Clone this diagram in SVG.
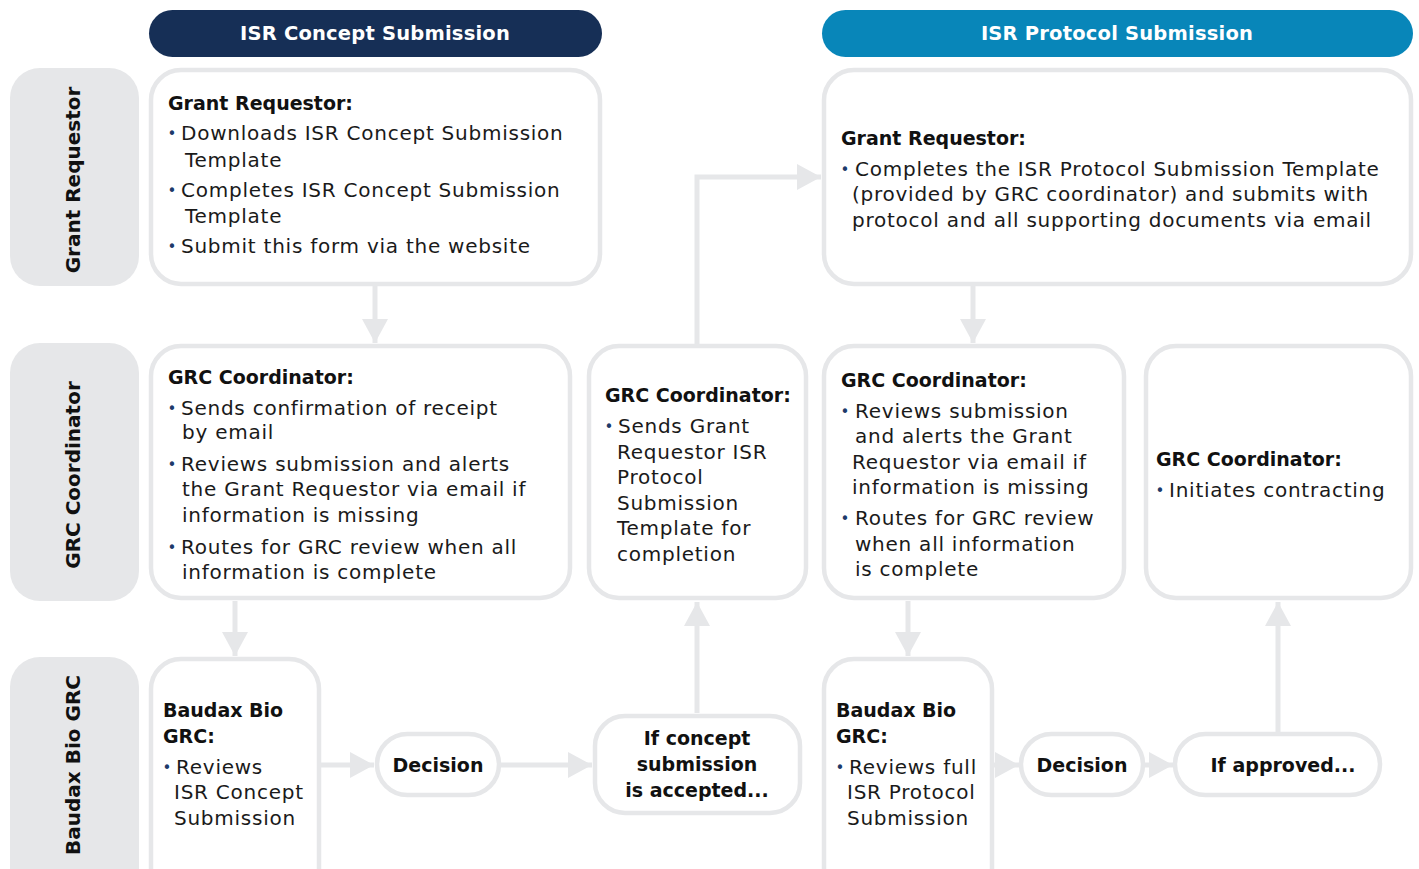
<svg xmlns="http://www.w3.org/2000/svg" width="1419" height="869" viewBox="0 0 1419 869">
<style>
.lane{fill:#e6e7e9}
.box{fill:#ffffff;stroke:#e6e7e9;stroke-width:4.5}
.hdr{font-family:"DejaVu Sans",sans-serif;font-weight:bold;font-size:19.5px;fill:#ffffff;text-anchor:middle;letter-spacing:0.2px}
.ln{font-family:"DejaVu Sans",sans-serif;font-weight:bold;font-size:20px;fill:#111111;text-anchor:middle}
.t{font-family:"DejaVu Sans",sans-serif;font-weight:bold;font-size:19px;fill:#111111}
.tc{font-family:"DejaVu Sans",sans-serif;font-weight:bold;font-size:19px;fill:#111111;text-anchor:middle}
.x{font-family:"DejaVu Sans",sans-serif;font-size:20px;fill:#1a1a1a;letter-spacing:0.75px}
.b{font-family:"DejaVu Sans",sans-serif;font-size:15px;fill:#1d3a6a;text-anchor:middle}
.c{fill:none;stroke:#e6e7e9;stroke-width:5}
</style>
<defs>
<marker id="ah" markerUnits="userSpaceOnUse" markerWidth="30" markerHeight="30" refX="24" refY="13" orient="auto" viewBox="0 0 30 30">
<path d="M0,0 L24,13 L0,26 Z" fill="#e6e7e9"/>
</marker>
</defs>
<rect width="1419" height="869" fill="#ffffff"/>

<g id="header-concept">
<rect x="149" y="10" width="453" height="47" rx="23.5" fill="#162f56"/>
<text class="hdr" x="375" y="40">ISR Concept Submission</text>
</g>
<g id="header-protocol">
<rect x="822" y="10" width="591" height="47" rx="23.5" fill="#0886b9"/>
<text class="hdr" x="1117" y="40">ISR Protocol Submission</text>
</g>

<g id="lane-grant-requestor">
<rect class="lane" x="10" y="68" width="129" height="218" rx="30"/>
<text class="ln" transform="translate(80,180) rotate(-90)">Grant Requestor</text>
</g>
<g id="lane-grc-coordinator">
<rect class="lane" x="10" y="343" width="129" height="258" rx="30"/>
<text class="ln" transform="translate(80,475) rotate(-90)">GRC Coordinator</text>
</g>
<g id="lane-baudax">
<rect class="lane" x="10" y="657" width="129" height="240" rx="30"/>
<text class="ln" transform="translate(80,765) rotate(-90)">Baudax Bio GRC</text>
</g>

<g id="connectors">
<line class="c" x1="375" y1="286" x2="375" y2="343" marker-end="url(#ah)"/>
<line class="c" x1="235" y1="601" x2="235" y2="656" marker-end="url(#ah)"/>
<line class="c" x1="321" y1="765" x2="374" y2="765" marker-end="url(#ah)"/>
<line class="c" x1="501" y1="765" x2="592" y2="765" marker-end="url(#ah)"/>
<line class="c" x1="697" y1="713" x2="697" y2="602" marker-end="url(#ah)"/>
<polyline class="c" points="697,344 697,177 821,177" marker-end="url(#ah)"/>
<line class="c" x1="973" y1="286" x2="973" y2="343" marker-end="url(#ah)"/>
<line class="c" x1="908" y1="601" x2="908" y2="656" marker-end="url(#ah)"/>
<line class="c" x1="994" y1="765" x2="1019" y2="765" marker-end="url(#ah)"/>
<line class="c" x1="1145" y1="765" x2="1173" y2="765" marker-end="url(#ah)"/>
<line class="c" x1="1278" y1="732" x2="1278" y2="602" marker-end="url(#ah)"/>
</g>

<g id="concept-grant-requestor">
<rect class="box" x="151" y="70" width="449" height="214" rx="30"/>
<text class="t" x="168" y="110">Grant Requestor:</text>
<text class="b" x="172" y="139">•</text>
<text class="x" x="181" y="140">Downloads ISR Concept Submission</text>
<text class="x" x="185" y="167">Template</text>
<text class="b" x="172" y="196">•</text>
<text class="x" x="181" y="197">Completes ISR Concept Submission</text>
<text class="x" x="185" y="223">Template</text>
<text class="b" x="172" y="252">•</text>
<text class="x" x="181" y="253">Submit this form via the website</text>
</g>

<g id="concept-grc-coordinator">
<rect class="box" x="151" y="346" width="419" height="252" rx="30"/>
<text class="t" x="168" y="384">GRC Coordinator:</text>
<text class="b" x="172" y="414">•</text>
<text class="x" x="181" y="415">Sends confirmation of receipt</text>
<text class="x" x="182" y="439">by email</text>
<text class="b" x="172" y="470">•</text>
<text class="x" x="181" y="471">Reviews submission and alerts</text>
<text class="x" x="182" y="496">the Grant Requestor via email if</text>
<text class="x" x="182" y="522">information is missing</text>
<text class="b" x="172" y="553">•</text>
<text class="x" x="181" y="554">Routes for GRC review when all</text>
<text class="x" x="182" y="579">information is complete</text>
</g>

<g id="send-template">
<rect class="box" x="589" y="346" width="217" height="252" rx="30"/>
<text class="t" x="605" y="402">GRC Coordinator:</text>
<text class="b" x="609" y="432">•</text>
<text class="x" x="618" y="433">Sends Grant</text>
<text class="x" x="617" y="459">Requestor ISR</text>
<text class="x" x="617" y="484">Protocol</text>
<text class="x" x="617" y="510">Submission</text>
<text class="x" x="617" y="535">Template for</text>
<text class="x" x="617" y="561">completion</text>
</g>

<g id="protocol-grant-requestor">
<rect class="box" x="824" y="70" width="587" height="214" rx="30"/>
<text class="t" x="841" y="145">Grant Requestor:</text>
<text class="b" x="845" y="175">•</text>
<text class="x" x="855" y="176">Completes the ISR Protocol Submission Template</text>
<text class="x" x="852" y="201">(provided by GRC coordinator) and submits with</text>
<text class="x" x="852" y="227">protocol and all supporting documents via email</text>
</g>

<g id="protocol-grc-coordinator">
<rect class="box" x="824" y="346" width="300" height="252" rx="30"/>
<text class="t" x="841" y="387">GRC Coordinator:</text>
<text class="b" x="845" y="417">•</text>
<text class="x" x="855" y="418">Reviews submission</text>
<text class="x" x="855" y="443">and alerts the Grant</text>
<text class="x" x="852" y="469">Requestor via email if</text>
<text class="x" x="852" y="494">information is missing</text>
<text class="b" x="845" y="524">•</text>
<text class="x" x="855" y="525">Routes for GRC review</text>
<text class="x" x="855" y="551">when all information</text>
<text class="x" x="855" y="576">is complete</text>
</g>

<g id="contracting">
<rect class="box" x="1146" y="346" width="265" height="252" rx="30"/>
<text class="t" x="1156" y="466">GRC Coordinator:</text>
<text class="b" x="1160" y="496">•</text>
<text class="x" x="1169" y="497">Initiates contracting</text>
</g>

<g id="baudax-concept">
<rect class="box" x="151" y="659" width="168" height="240" rx="30"/>
<text class="t" x="163" y="717">Baudax Bio</text>
<text class="t" x="163" y="743">GRC:</text>
<text class="b" x="167" y="773">•</text>
<text class="x" x="176" y="774">Reviews</text>
<text class="x" x="174" y="799">ISR Concept</text>
<text class="x" x="174" y="825">Submission</text>
</g>

<g id="decision-concept">
<rect class="box" x="377" y="734" width="122" height="61" rx="30.5"/>
<text class="tc" x="438" y="772">Decision</text>
</g>

<g id="concept-accepted">
<rect class="box" x="595" y="716" width="205" height="97" rx="30"/>
<text class="tc" x="697" y="745">If concept</text>
<text class="tc" x="697" y="771">submission</text>
<text class="tc" x="697" y="797">is accepted...</text>
</g>

<g id="baudax-protocol">
<rect class="box" x="824" y="659" width="168" height="240" rx="30"/>
<text class="t" x="836" y="717">Baudax Bio</text>
<text class="t" x="836" y="743">GRC:</text>
<text class="b" x="840" y="773">•</text>
<text class="x" x="849" y="774">Reviews full</text>
<text class="x" x="847" y="799">ISR Protocol</text>
<text class="x" x="847" y="825">Submission</text>
</g>

<g id="decision-protocol">
<rect class="box" x="1021" y="734" width="122" height="61" rx="30.5"/>
<text class="tc" x="1082" y="772">Decision</text>
</g>

<g id="if-approved">
<rect class="box" x="1175" y="734" width="205" height="61" rx="30.5"/>
<text class="tc" x="1283" y="772">If approved...</text>
</g>
</svg>
